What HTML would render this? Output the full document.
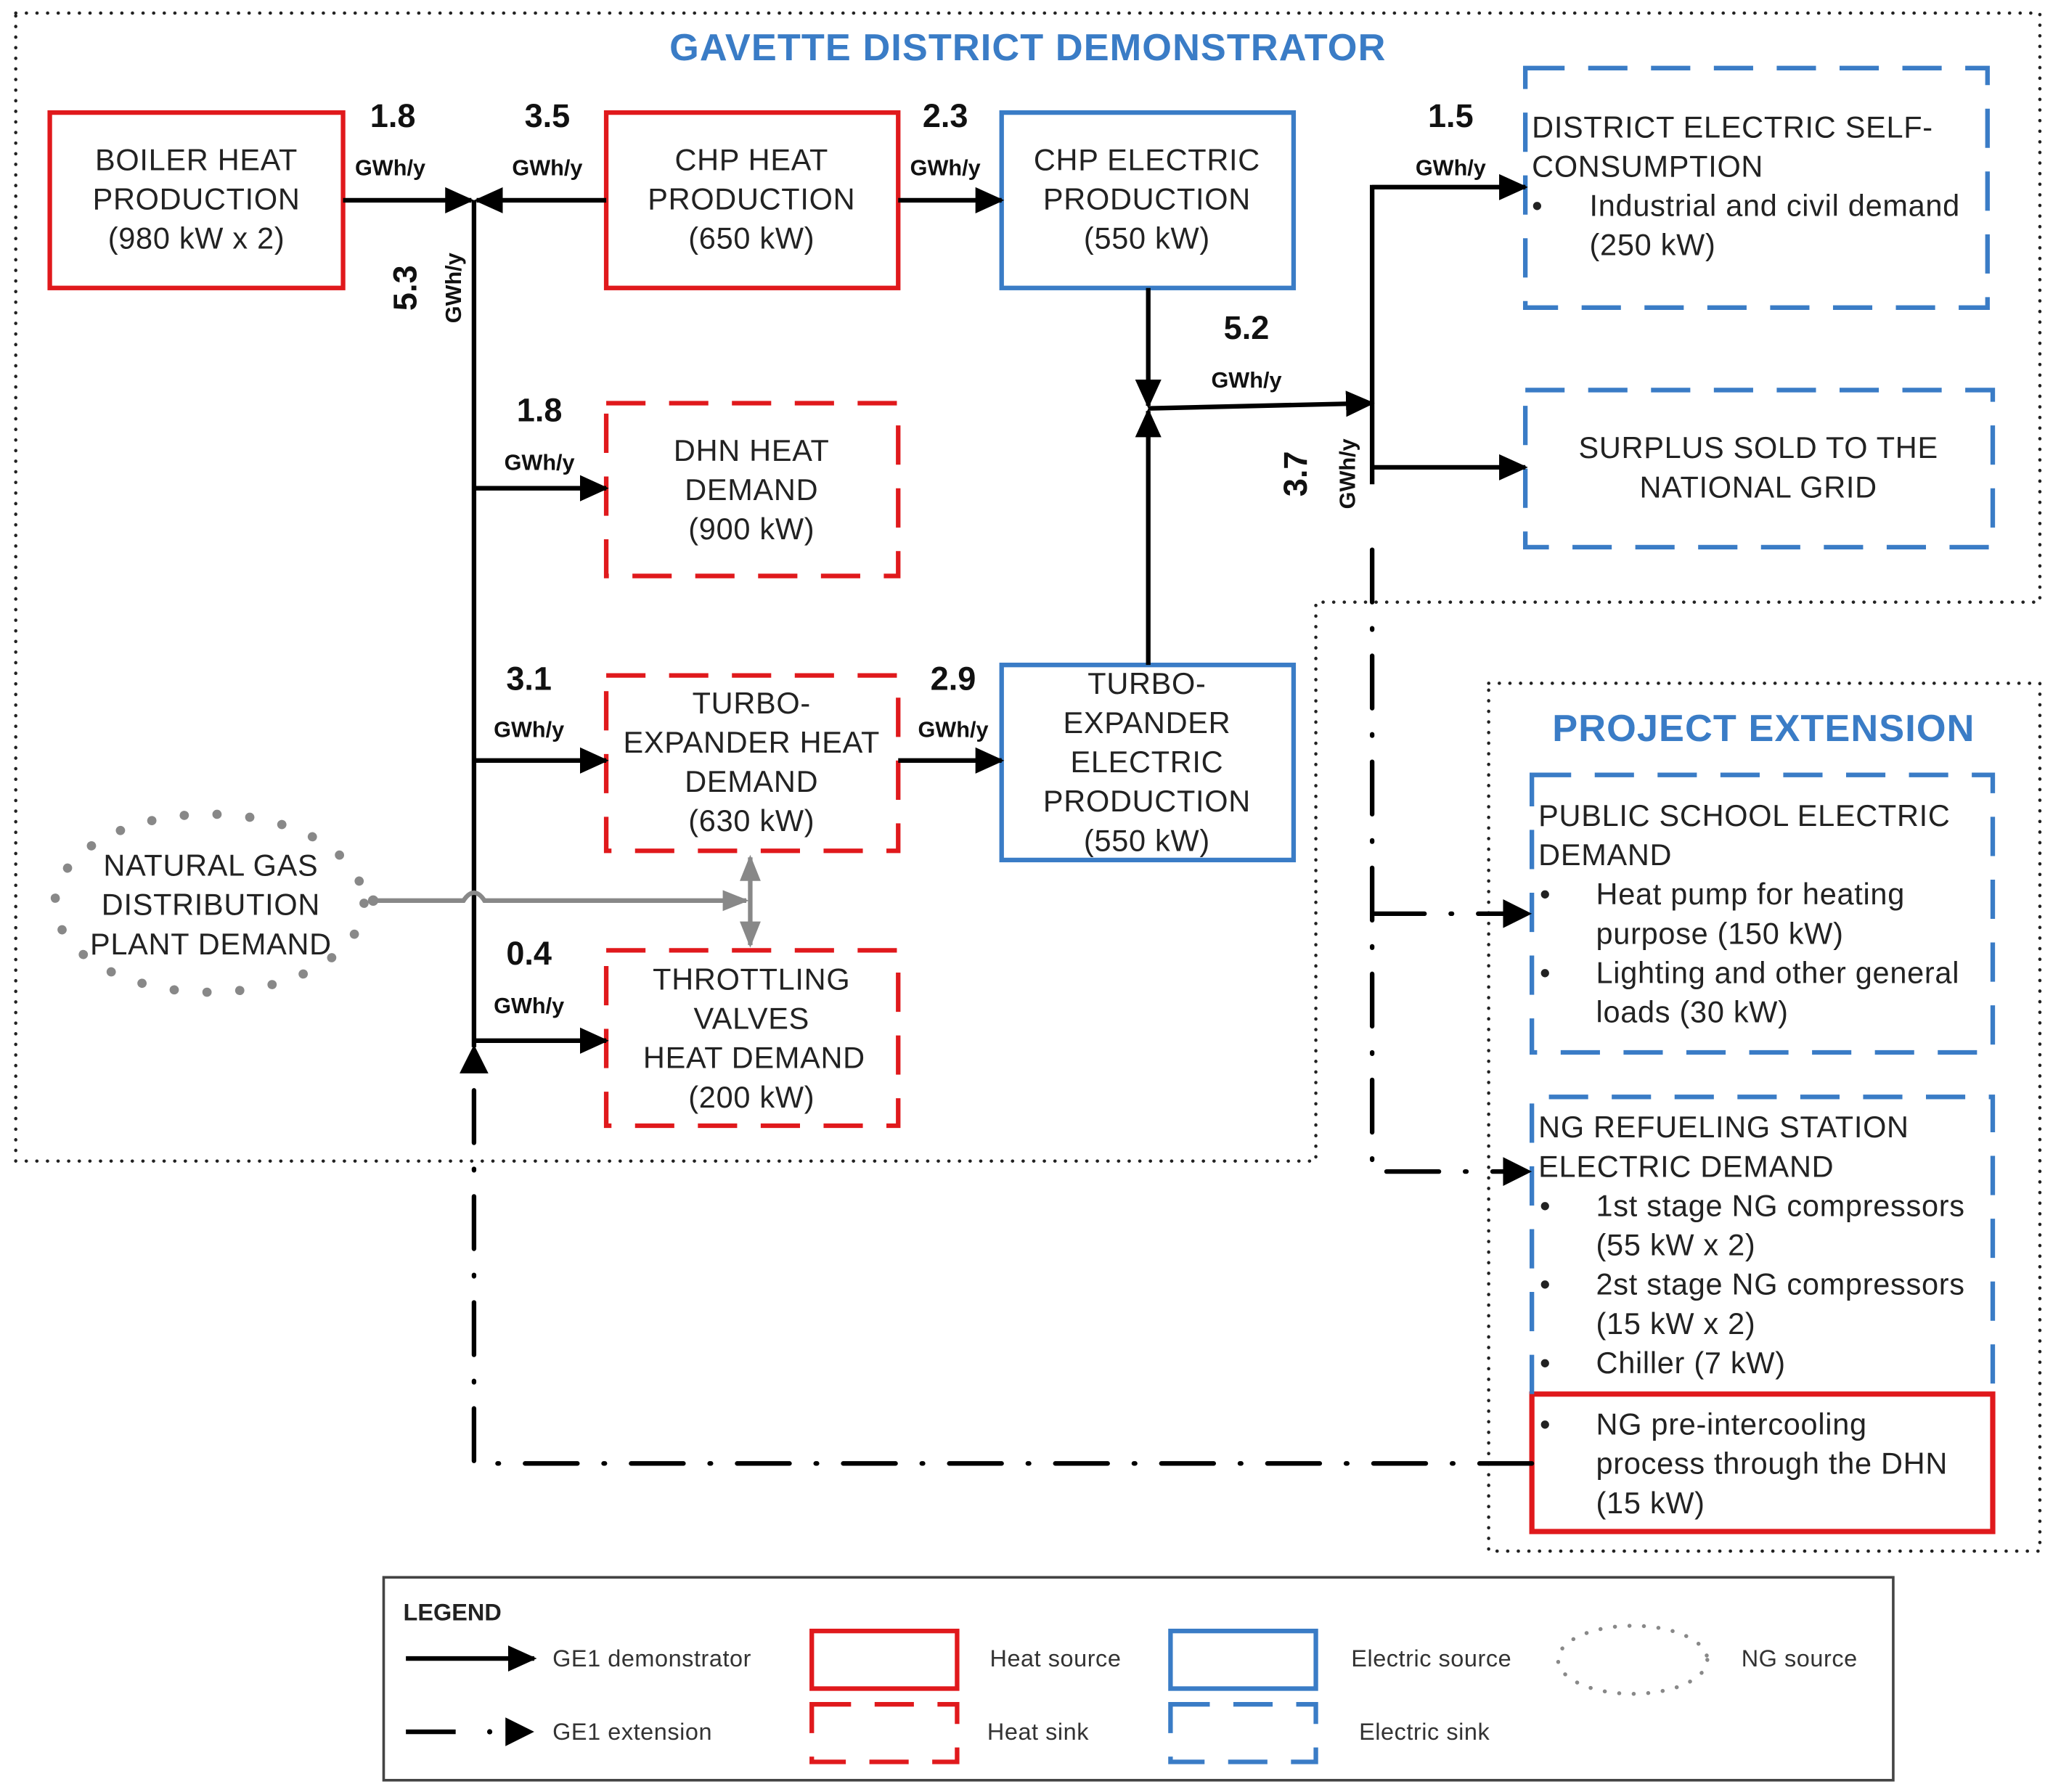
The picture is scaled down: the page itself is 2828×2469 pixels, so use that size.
<!DOCTYPE html>
<html><head><meta charset="utf-8"><style>html,body{margin:0;padding:0;background:#fff}svg{display:block}</style></head>
<body>
<svg width="2828" height="2469" viewBox="0 0 1568 1369" xmlns="http://www.w3.org/2000/svg" font-family="'Liberation Sans', Arial, sans-serif">
<defs>
<marker id="ahb" markerWidth="22" markerHeight="22" refX="20" refY="11" orient="auto" markerUnits="userSpaceOnUse" viewBox="0 0 22 22"><path d="M0,1 L22,11 L0,21 z" fill="#000"/></marker>
<marker id="ahg" markerWidth="20" markerHeight="20" refX="18" refY="10" orient="auto-start-reverse" markerUnits="userSpaceOnUse" viewBox="0 0 20 20"><path d="M0,2 L20,10 L0,18 z" fill="#888"/></marker>
</defs>
<rect width="1568" height="1369" fill="#fff"/>
<g fill="none" stroke="#222" stroke-width="2.5" stroke-dasharray="0.1 8" stroke-linecap="round">
<path d="M12,10 H1558 V460 H1005 V887 H12 Z"/>
<rect x="1137" y="522" width="421" height="663"/>
</g>
<g fill="#3a7cc6" font-weight="bold" text-anchor="middle" letter-spacing="0.6">
<text x="785" y="46" font-size="29">GAVETTE DISTRICT DEMONSTRATOR</text>
<text x="1347" y="566" font-size="29">PROJECT EXTENSION</text>
</g>
<g fill="none" stroke-width="3.5">
<rect x="38" y="86" width="224" height="134" stroke="#e0191c"/>
<rect x="463" y="86" width="223" height="134" stroke="#e0191c"/>
<rect x="765" y="86" width="223" height="134" stroke="#3a7cc6"/>
<rect x="765" y="508" width="223" height="149" stroke="#3a7cc6"/>
<rect x="1170" y="1065" width="352" height="105" stroke="#e0191c" stroke-width="4"/>
</g>
<g fill="none" stroke-width="3.5" stroke-dasharray="30 18">
<rect x="463" y="308" width="223" height="132" stroke="#e0191c"/>
<rect x="463" y="516" width="223" height="134" stroke="#e0191c"/>
<rect x="463" y="726" width="223" height="134" stroke="#e0191c"/>
<rect x="1165" y="52" width="353" height="183" stroke="#3a7cc6"/>
<rect x="1165" y="298" width="357" height="120" stroke="#3a7cc6"/>
<rect x="1170" y="592" width="352" height="212" stroke="#3a7cc6"/>
<path d="M1170,1065 V838 H1522 V1065" stroke="#3a7cc6"/>
</g>
<ellipse cx="160" cy="690" rx="118" ry="68" fill="none" stroke="#888" stroke-width="7" stroke-dasharray="0.1 25" stroke-linecap="round"/>
<g font-size="23" fill="#222" text-anchor="middle" letter-spacing="0.4">
<text x="150" y="130">BOILER HEAT</text><text x="150" y="160">PRODUCTION</text><text x="150" y="190">(980 kW x 2)</text>
<text x="574" y="130">CHP HEAT</text><text x="574" y="160">PRODUCTION</text><text x="574" y="190">(650 kW)</text>
<text x="876" y="130">CHP ELECTRIC</text><text x="876" y="160">PRODUCTION</text><text x="876" y="190">(550 kW)</text>
<text x="574" y="352">DHN HEAT</text><text x="574" y="382">DEMAND</text><text x="574" y="412">(900 kW)</text>
<text x="574" y="545">TURBO-</text><text x="574" y="575">EXPANDER HEAT</text><text x="574" y="605">DEMAND</text><text x="574" y="635">(630 kW)</text>
<text x="876" y="530">TURBO-</text><text x="876" y="560">EXPANDER</text><text x="876" y="590">ELECTRIC</text><text x="876" y="620">PRODUCTION</text><text x="876" y="650">(550 kW)</text>
<text x="574" y="756">THROTTLING</text><text x="574" y="786">VALVES</text><text x="576" y="816">HEAT DEMAND</text><text x="574" y="846">(200 kW)</text>
<text x="1343" y="350">SURPLUS SOLD TO THE</text><text x="1343" y="380">NATIONAL GRID</text>
<text x="161" y="669">NATURAL GAS</text><text x="161" y="699">DISTRIBUTION</text><text x="161" y="729">PLANT DEMAND</text>
</g>
<g font-size="23" fill="#222" letter-spacing="0.4">
<text x="1170" y="105">DISTRICT ELECTRIC  SELF-</text><text x="1170" y="135">CONSUMPTION</text>
<text x="1170" y="165">•</text><text x="1214" y="165">Industrial and civil demand</text><text x="1214" y="195">(250 kW)</text>
<text x="1175" y="631">PUBLIC SCHOOL ELECTRIC</text><text x="1175" y="661">DEMAND</text>
<text x="1176" y="691">•</text><text x="1219" y="691">Heat pump for heating</text><text x="1219" y="721">purpose (150 kW)</text>
<text x="1176" y="751">•</text><text x="1219" y="751">Lighting and other general</text><text x="1219" y="781">loads (30 kW)</text>
<text x="1175" y="869">NG REFUELING STATION</text><text x="1175" y="899">ELECTRIC DEMAND</text>
<text x="1176" y="929">•</text><text x="1219" y="929">1st stage NG compressors</text><text x="1219" y="959">(55 kW x 2)</text>
<text x="1176" y="989">•</text><text x="1219" y="989">2st stage NG compressors</text><text x="1219" y="1019">(15 kW x 2)</text>
<text x="1176" y="1049">•</text><text x="1219" y="1049">Chiller (7 kW)</text>
<text x="1176" y="1096">•</text><text x="1219" y="1096">NG pre-intercooling</text><text x="1219" y="1126">process through the DHN</text><text x="1219" y="1156">(15 kW)</text>
</g>
<g stroke="#000" stroke-width="3.5" fill="none">
<line x1="262" y1="153" x2="360" y2="153" marker-end="url(#ahb)"/>
<line x1="463" y1="153" x2="364" y2="153" marker-end="url(#ahb)"/>
<line x1="362" y1="153" x2="362" y2="800"/>
<line x1="362" y1="373" x2="463" y2="373" marker-end="url(#ahb)"/>
<line x1="362" y1="581" x2="463" y2="581" marker-end="url(#ahb)"/>
<line x1="362" y1="795" x2="463" y2="795" marker-end="url(#ahb)"/>
<line x1="686" y1="153" x2="765" y2="153" marker-end="url(#ahb)"/>
<line x1="686" y1="581" x2="765" y2="581" marker-end="url(#ahb)"/>
<line x1="877" y1="220" x2="877" y2="310" marker-end="url(#ahb)"/>
<line x1="877" y1="508" x2="877" y2="314" marker-end="url(#ahb)"/>
<line x1="877" y1="312" x2="1048" y2="308" marker-end="url(#ahb)"/>
<path d="M1165,143 H1048 V370" />
<line x1="1048" y1="143" x2="1165" y2="143" marker-end="url(#ahb)"/>
<line x1="1048" y1="357" x2="1165" y2="357" marker-end="url(#ahb)"/>
</g>
<g stroke="#888" stroke-width="3.5" fill="none">
<path d="M285,688 H354 q8,-12 16,0 H570" marker-end="url(#ahg)"/>
<line x1="573" y1="655" x2="573" y2="722" marker-start="url(#ahg)" marker-end="url(#ahg)"/>
</g>
<circle cx="285" cy="688" r="4" fill="#888"/>
<g stroke="#000" stroke-width="3.5" fill="none" stroke-dasharray="40 20 1 20" stroke-linecap="round">
<path d="M1048,420 V895 H1165"/>
<path d="M1048,698 H1165"/>
<path d="M1170,1118 H362 V810"/>
</g>
<g fill="#000">
<path d="M1170,698 l-22,-11 v22z"/>
<path d="M1170,895 l-22,-11 v22z"/>
<path d="M362,798 l-11,22 h22z"/>
</g>
<g font-weight="bold" fill="#111" text-anchor="middle">
<g font-size="25">
<text x="300" y="97">1.8</text><text x="418" y="97">3.5</text><text x="722" y="97">2.3</text><text x="1108" y="97">1.5</text>
<text x="412" y="322">1.8</text><text x="952" y="259">5.2</text><text x="404" y="527">3.1</text><text x="728" y="527">2.9</text><text x="404" y="737">0.4</text>
<text transform="translate(318,220) rotate(-90)">5.3</text>
<text transform="translate(998,362) rotate(-90)">3.7</text>
</g>
<g font-size="17">
<text x="298" y="134">GWh/y</text><text x="418" y="134">GWh/y</text><text x="722" y="134">GWh/y</text><text x="1108" y="134">GWh/y</text>
<text x="412" y="359">GWh/y</text><text x="952" y="296">GWh/y</text><text x="404" y="563">GWh/y</text><text x="728" y="563">GWh/y</text><text x="404" y="774">GWh/y</text>
<text transform="translate(352,220) rotate(-90)">GWh/y</text>
<text transform="translate(1035,362) rotate(-90)">GWh/y</text>
</g>
</g>
<rect x="293" y="1205" width="1153" height="155" fill="none" stroke="#444" stroke-width="2"/>
<text x="308" y="1238" font-size="18" font-weight="bold" fill="#222">LEGEND</text>
<g stroke="#000" stroke-width="3.5" fill="none">
<line x1="310" y1="1267" x2="408" y2="1267" marker-end="url(#ahb)"/>
<line x1="310" y1="1323" x2="348" y2="1323"/>
</g>
<circle cx="374" cy="1323" r="2" fill="#000"/>
<path d="M408,1323 l-22,-11 v22z" fill="#000"/>
<rect x="620" y="1246" width="111" height="44" fill="none" stroke="#e0191c" stroke-width="3.5"/>
<rect x="620" y="1302" width="111" height="44" fill="none" stroke="#e0191c" stroke-width="3.5" stroke-dasharray="30 18"/>
<rect x="894" y="1246" width="111" height="44" fill="none" stroke="#3a7cc6" stroke-width="3.5"/>
<rect x="894" y="1302" width="111" height="44" fill="none" stroke="#3a7cc6" stroke-width="3.5" stroke-dasharray="30 18"/>
<ellipse cx="1247" cy="1268" rx="57" ry="26" fill="none" stroke="#888" stroke-width="3" stroke-dasharray="0.1 11" stroke-linecap="round"/>
<g font-size="18" fill="#333" letter-spacing="0.3">
<text x="422" y="1273">GE1 demonstrator</text><text x="422" y="1329">GE1 extension</text>
<text x="756" y="1273">Heat source</text><text x="754" y="1329">Heat sink</text>
<text x="1032" y="1273">Electric source</text><text x="1038" y="1329">Electric sink</text>
<text x="1330" y="1273">NG source</text>
</g>
</svg>
</body></html>
